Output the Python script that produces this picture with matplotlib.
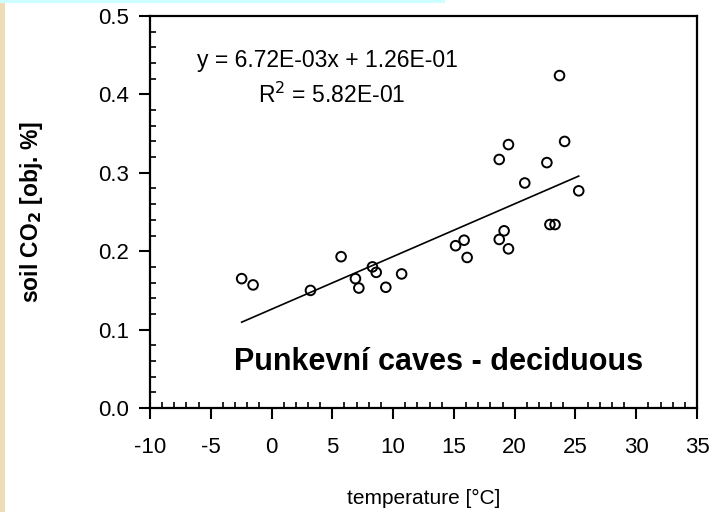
import matplotlib
matplotlib.use("Agg")
import matplotlib.pyplot as plt
from matplotlib.ticker import MultipleLocator, FormatStrFormatter
from matplotlib.patches import Rectangle

plt.rcParams['font.family'] = ['Liberation Sans', 'DejaVu Sans']
plt.rcParams['axes.unicode_minus'] = False

temperature = [-2.46, -1.52, 3.20, 5.72, 6.90, 7.18, 8.30, 8.61, 9.40, 10.70,
               15.14, 15.84, 16.09, 18.73, 19.49, 18.73, 19.13, 19.49, 20.83,
               22.65, 22.90, 23.32, 23.69, 24.11, 25.27]
soil_co2 = [0.165, 0.157, 0.150, 0.193, 0.165, 0.153, 0.180, 0.173, 0.154, 0.171,
            0.207, 0.214, 0.192, 0.317, 0.336, 0.215, 0.226, 0.203, 0.287,
            0.313, 0.234, 0.234, 0.424, 0.340, 0.277]
slope = 6.72e-3
intercept = 1.26e-1
eq_text = "y = 6.72E-03x + 1.26E-01"
r2_text = "R$^2$ = 5.82E-01"
title_text = "Punkevní caves - deciduous"
xticks = [-10, -5, 0, 5, 10, 15, 20, 25, 30, 35]
yticks = [0.0, 0.1, 0.2, 0.3, 0.4, 0.5]

fig = plt.figure(figsize=(7.16, 5.12), dpi=100)
fig.patch.set_facecolor('white')
# decorative background strips
fig.add_artist(Rectangle((0, 0), 5/716, 1, transform=fig.transFigure,
                         facecolor='#EEDCB8', edgecolor='none', zorder=0))
fig.add_artist(Rectangle((0, 1 - 3/512), 445/716, 3/512, transform=fig.transFigure,
                         facecolor='#CCFFFF', edgecolor='none', zorder=0))

ax = fig.add_axes([150/716, (512-408)/512, (697-150)/716, (408-16)/512])
ax.set_xlim(xticks[0], xticks[-1])
ax.set_ylim(yticks[0], yticks[-1])

ax.scatter(temperature, soil_co2, s=48, facecolors='none', edgecolors='black',
           linewidths=1.4, zorder=3)
xmin, xmax = min(temperature), max(temperature)
ax.plot([xmin, xmax], [intercept + slope * xmin, intercept + slope * xmax],
        color='black', lw=1.2, zorder=2)

ax.set_xticks(xticks)
ax.set_yticks(yticks)
ax.yaxis.set_major_formatter(FormatStrFormatter('%.1f'))
ax.xaxis.set_minor_locator(MultipleLocator(1))
ax.yaxis.set_minor_locator(MultipleLocator(0.02))
ax.tick_params(which='major', direction='out', length=8, width=1.5, labelsize=16)
ax.tick_params(axis='x', which='major', pad=13)
ax.tick_params(axis='y', which='major', pad=7)
ax.tick_params(which='minor', direction='in', length=4, width=1.2)
ax.tick_params(top=False, right=False, which='both')
for s in ax.spines.values():
    s.set_linewidth(1.6)

ax.text(-6.1, 0.443, eq_text, fontsize=16.5, va='center', ha='left')
ax.text(-1.1, 0.399, r2_text, fontsize=16.5, va='center', ha='left')
ax.text(13.7, 0.059, title_text, fontsize=22, fontweight='bold', va='center', ha='center')

ax.set_xlabel("temperature [°C]", fontsize=15, labelpad=22)
ax.set_ylabel("soil CO$_\\mathbf{2}$ [obj. %]", fontsize=16.5, fontweight='bold', labelpad=38)

fig.savefig("out.png", dpi=100)
